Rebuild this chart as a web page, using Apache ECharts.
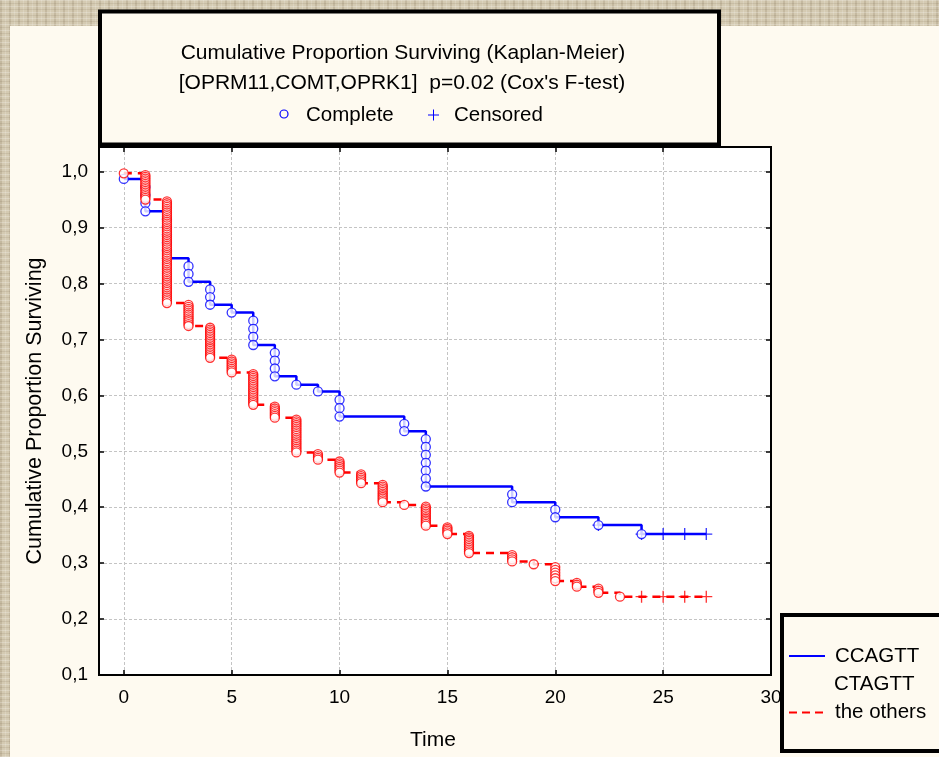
<!DOCTYPE html>
<html lang="en">
<head>
<meta charset="UTF-8">
<title>Cumulative Proportion Surviving (Kaplan-Meier)</title>
<script src="https://cdn.jsdelivr.net/npm/echarts@6/dist/echarts.min.js"></script>
<style>
    html, body { margin: 0; padding: 0; }
    body {
        width: 939px;
        height: 757px;
        overflow: hidden;
        background-color: #d4cab2;
        background-image:
            repeating-linear-gradient(0deg, rgba(255,255,255,0.22) 0 1px, transparent 1px 3px, rgba(90,70,40,0.10) 3px 4px, transparent 4px 6px),
            repeating-linear-gradient(90deg, rgba(110,90,60,0.16) 0 2px, transparent 2px 5px, rgba(255,255,255,0.16) 5px 6px, transparent 6px 9px);
    }
    #main { width: 939px; height: 757px; }
</style>
</head>
<body>
<div id="main"></div>
<script>
    // CCAGTT / CTAGTT group: time of each event, level after it, number of deaths at it
    var blueTimes  = [0, 1, 2, 3, 4, 5, 6, 7, 8, 9, 10, 13, 14, 18, 20, 22, 24];
    var blueLevels = [0.987, 0.929, 0.845, 0.803, 0.762, 0.748, 0.690, 0.634, 0.619, 0.607, 0.562, 0.536, 0.437, 0.409, 0.382, 0.368, 0.352];
    var blueDeaths = [1, 4, 6, 3, 3, 1, 4, 4, 1, 1, 3, 2, 7, 2, 2, 1, 1];
    var blueCensored = [22, 24, 25, 26, 27];

    // the others
    var redTimes  = [0, 1, 2, 3, 4, 5, 6, 7, 8, 9, 10, 11, 12, 13, 14, 15, 16, 18, 19, 20, 21, 22, 23];
    var redLevels = [0.997, 0.950, 0.765, 0.724, 0.667, 0.641, 0.583, 0.560, 0.498, 0.485, 0.462, 0.443, 0.409, 0.404, 0.367, 0.352, 0.318, 0.303, 0.298, 0.268, 0.258, 0.247, 0.240];
    var redDeaths = [1, 15, 56, 12, 18, 8, 18, 7, 19, 4, 7, 6, 11, 1, 12, 5, 11, 4, 1, 6, 3, 3, 1];
    var redCensored = [24, 25, 26, 27];

    var lastTime = 27;
    var xTicks = [0, 5, 10, 15, 20, 25, 30];

    var FONT = "'Liberation Sans', Arial, sans-serif";
    var BLUE = '#0000ff', RED = '#ff0000';
    var PLUS = 'path://M0,4.45H10V5.55H0Z M4.45,0H5.55V10H4.45Z';

    function stepLine(times, levels) {
        var d = [];
        for (var i = 0; i < times.length; i++) d.push([times[i], levels[i]]);
        d.push([lastTime, levels[levels.length - 1]]);
        return d;
    }

    // tied deaths at one time: each one lowers the estimate by the same share
    function deathPoints(times, levels, deaths) {
        var pts = [], prev = 1.0;
        for (var i = 0; i < times.length; i++) {
            var step = (prev - levels[i]) / deaths[i];
            for (var j = 1; j <= deaths[i]; j++) pts.push([times[i], prev - step * j]);
            prev = levels[i];
        }
        return pts;
    }

    function levelAt(times, levels, t) {
        var v = 1.0;
        for (var i = 0; i < times.length; i++) if (times[i] <= t) v = levels[i];
        return v;
    }

    function censoredPoints(times, levels, cens) {
        return cens.map(function (t) { return [t, levelAt(times, levels, t)]; });
    }

    var chart = echarts.init(document.getElementById('main'));

    var tickStyle = { show: true, inside: true, length: 5, lineStyle: { color: '#000', width: 1.5 } };
    var lineStyleAx = { show: true, onZero: false, lineStyle: { color: '#000', width: 2 } };
    var gridLine = { show: true, lineStyle: { color: '#c4c4c4', type: [3, 2], width: 1 } };

    var option = {
        animation: false,
        backgroundColor: 'transparent',
        grid: {
            left: 99, top: 147, width: 672, height: 528,
            show: true, backgroundColor: '#ffffff', borderColor: '#000', borderWidth: 2
        },
        xAxis: [{
            type: 'value', position: 'bottom', min: -1.15, max: 30,
            axisLine: lineStyleAx,
            axisTick: Object.assign({ customValues: xTicks }, tickStyle),
            axisLabel: { customValues: xTicks, color: '#000', fontSize: 19, fontFamily: FONT, margin: 13 },
            splitLine: gridLine
        }, {
            type: 'value', position: 'top', min: -1.15, max: 30,
            axisLine: lineStyleAx,
            axisTick: Object.assign({ customValues: xTicks }, tickStyle),
            axisLabel: { show: false },
            splitLine: { show: false }
        }],
        yAxis: [{
            type: 'value', position: 'left', min: 0.1, max: 1.044, interval: 0.1,
            axisLine: lineStyleAx,
            axisTick: tickStyle,
            axisLabel: {
                color: '#000', fontSize: 19, fontFamily: FONT, margin: 11, showMaxLabel: false,
                formatter: function (v) { return v > 1.001 ? '' : v.toFixed(1).replace('.', ','); }
            },
            splitLine: gridLine
        }, {
            type: 'value', position: 'right', min: 0.1, max: 1.044, interval: 0.1,
            axisLine: lineStyleAx,
            axisTick: tickStyle,
            axisLabel: { show: false },
            splitLine: { show: false }
        }],
        series: [{
            type: 'line', step: 'end', data: stepLine(blueTimes, blueLevels),
            symbol: 'none', lineStyle: { color: BLUE, width: 2.5 }, z: 3
        }, {
            type: 'scatter', data: deathPoints(blueTimes, blueLevels, blueDeaths),
            symbol: 'circle', symbolSize: 9,
            itemStyle: { color: '#fff', borderColor: BLUE, borderWidth: 1.3 }, z: 4
        }, {
            type: 'scatter', data: censoredPoints(blueTimes, blueLevels, blueCensored),
            symbol: PLUS, symbolSize: 12, itemStyle: { color: BLUE }, z: 3
        }, {
            type: 'line', step: 'end', data: stepLine(redTimes, redLevels),
            symbol: 'none', lineStyle: { color: RED, width: 2.5, type: [8, 6] }, z: 5
        }, {
            type: 'scatter', data: deathPoints(redTimes, redLevels, redDeaths),
            symbol: 'circle', symbolSize: 9,
            itemStyle: { color: '#fff', borderColor: RED, borderWidth: 1.3 }, z: 6
        }, {
            type: 'scatter', data: censoredPoints(redTimes, redLevels, redCensored),
            symbol: PLUS, symbolSize: 12, itemStyle: { color: RED }, z: 6
        }],
        graphic: [
            // cream panel
            { type: 'rect', z: -10, silent: true, shape: { x: 10, y: 26, width: 940, height: 740 }, style: { fill: '#fefaf0' } },
            // title box
            { type: 'rect', z: 100, shape: { x: 100, y: 11.5, width: 619, height: 133 },
              style: { fill: '#fefaf0', stroke: '#000', lineWidth: 4 } },
            { type: 'text', z: 101, x: 403, y: 53, style: { text: 'Cumulative Proportion Surviving (Kaplan-Meier)', fill: '#000', font: '21px ' + FONT, align: 'center', verticalAlign: 'middle' } },
            { type: 'text', z: 101, x: 402, y: 83, style: { text: "[OPRM11,COMT,OPRK1]  p=0.02 (Cox's F-test)", fill: '#000', font: '21px ' + FONT, align: 'center', verticalAlign: 'middle' } },
            { type: 'circle', z: 101, shape: { cx: 284, cy: 114, r: 4 }, style: { fill: 'none', stroke: BLUE, lineWidth: 1.2 } },
            { type: 'text', z: 101, x: 306, y: 115, style: { text: 'Complete', fill: '#000', font: '20.5px ' + FONT, align: 'left', verticalAlign: 'middle' } },
            { type: 'line', z: 101, shape: { x1: 428, y1: 115, x2: 439, y2: 115 }, style: { stroke: BLUE, lineWidth: 1 } },
            { type: 'line', z: 101, shape: { x1: 433.5, y1: 109.5, x2: 433.5, y2: 120.5 }, style: { stroke: BLUE, lineWidth: 1 } },
            { type: 'text', z: 101, x: 454, y: 115, style: { text: 'Censored', fill: '#000', font: '20.5px ' + FONT, align: 'left', verticalAlign: 'middle' } },
            // axis names
            { type: 'text', z: 50, x: 35, y: 411, rotation: Math.PI / 2,
              style: { text: 'Cumulative Proportion Surviving', fill: '#000', font: '21.5px ' + FONT, align: 'center', verticalAlign: 'middle' } },
            { type: 'text', z: 50, x: 433, y: 740, style: { text: 'Time', fill: '#000', font: '21px ' + FONT, align: 'center', verticalAlign: 'middle' } },
            // legend box
            { type: 'rect', z: 100, shape: { x: 782, y: 615, width: 180, height: 136 },
              style: { fill: '#fefaf0', stroke: '#000', lineWidth: 4 } },
            { type: 'line', z: 101, shape: { x1: 789, y1: 656, x2: 825, y2: 656 }, style: { stroke: BLUE, lineWidth: 2 } },
            { type: 'text', z: 101, x: 835, y: 656, style: { text: 'CCAGTT', fill: '#000', font: '20.5px ' + FONT, align: 'left', verticalAlign: 'middle' } },
            { type: 'text', z: 101, x: 834, y: 684, style: { text: 'CTAGTT', fill: '#000', font: '20.5px ' + FONT, align: 'left', verticalAlign: 'middle' } },
            { type: 'line', z: 101, shape: { x1: 789, y1: 712.5, x2: 825, y2: 712.5 }, style: { stroke: RED, lineWidth: 2, lineDash: [8, 5] } },
            { type: 'text', z: 101, x: 835, y: 712, style: { text: 'the others', fill: '#000', font: '20.5px ' + FONT, align: 'left', verticalAlign: 'middle' } }
        ]
    };

    chart.setOption(option);
</script>
</body>
</html>
